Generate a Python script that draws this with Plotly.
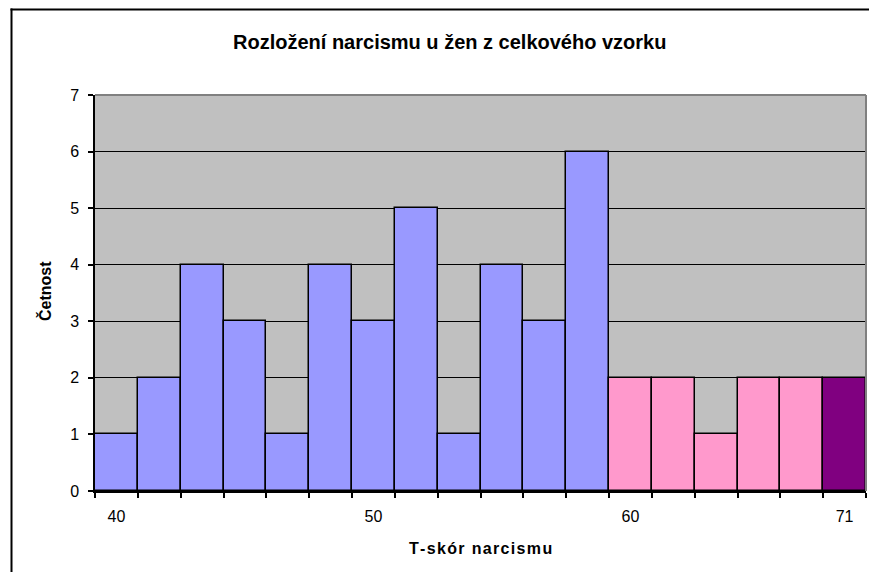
import plotly.graph_objects as go

# Data
bins = list(range(18))
counts = [1, 2, 4, 3, 1, 4, 3, 5, 1, 4, 3, 6, 2, 2, 1, 2, 2, 2]
groups = ["low"] * 12 + ["high"] * 5 + ["top"]
tick_positions = [0, 6, 12, 17]
tick_labels = ["40", "50", "60", "71"]
y_ticks = [0, 1, 2, 3, 4, 5, 6, 7]

group_colors = {"low": "#9999FF", "high": "#FF99CC", "top": "#800080"}
colors = [group_colors[g] for g in groups]

W, H = 870, 573
L, R, T, B = 95, 4, 95, 82
pw = W - L - R
ph = H - T - B

fig = go.Figure()
fig.add_trace(go.Bar(
    x=bins, y=counts, width=1,
    marker=dict(color=colors, line=dict(color="black", width=1.5)),
    hoverinfo="x+y",
))

font = "Arial, Liberation Sans, sans-serif"

fig.update_layout(
    width=W, height=H,
    margin=dict(l=L, r=R, t=T, b=B),
    paper_bgcolor="white",
    plot_bgcolor="#C0C0C0",
    showlegend=False,
    bargap=0,
    font=dict(family=font, size=16, color="black"),
    xaxis=dict(
        range=[-0.5, 17.5],
        tickmode="array", tickvals=tick_positions, ticktext=tick_labels,
        ticks="", showgrid=False, zeroline=False,
        showline=True, linecolor="black", linewidth=1.5,
        tickfont=dict(size=16, family=font),
        ticklabelstandoff=10,
        minor=dict(tickmode="array",
                   tickvals=[i - 0.5 for i in range(19)],
                   ticks="outside", ticklen=5, tickcolor="black", tickwidth=1.5,
                   showgrid=False),
        title=None,
    ),
    yaxis=dict(
        range=[0, 7],
        tickmode="array", tickvals=y_ticks,
        ticks="outside", ticklen=5, tickcolor="black", tickwidth=1.5,
        showgrid=True, gridcolor="black", gridwidth=1,
        zeroline=False,
        showline=True, linecolor="black", linewidth=1.5,
        tickfont=dict(size=16, family=font),
        ticklabelstandoff=6,
        title=None,
    ),
)

def px_x(p):
    return (p - L) / pw

def px_y(p):
    return (H - B - p) / ph

# plot-area gray top/right edges
fig.add_shape(type="line", xref="paper", yref="paper", x0=0, x1=1, y0=1, y1=1,
              line=dict(color="#808080", width=2))
fig.add_shape(type="line", xref="paper", yref="paper", x0=1, x1=1, y0=0, y1=1,
              line=dict(color="#808080", width=2))

# outer chart border: only top and left edges are visible in the frame
fig.add_shape(type="line", xref="paper", yref="paper",
              x0=px_x(10.5), x1=px_x(869), y0=px_y(9.5), y1=px_y(9.5),
              line=dict(color="black", width=2))
fig.add_shape(type="line", xref="paper", yref="paper",
              x0=px_x(11.5), x1=px_x(11.5), y0=px_y(8.5), y1=px_y(572),
              line=dict(color="black", width=2))

# Title and axis labels
fig.add_annotation(text="<b>Rozložení narcismu u žen z celkového vzorku</b>",
                   xref="paper", yref="paper", x=px_x(449), y=px_y(42),
                   xanchor="center", yanchor="middle",
                   showarrow=False, font=dict(size=20, family=font))
xlab = "\u200a".join("T-skór narcismu")
fig.add_annotation(text="<b>" + xlab + "</b>",
                   xref="paper", yref="paper", x=px_x(480), y=px_y(548),
                   xanchor="center", yanchor="middle",
                   showarrow=False, font=dict(size=16, family=font))
fig.add_annotation(text="<b>Četnost</b>", textangle=-90,
                   xref="paper", yref="paper", x=px_x(45), y=px_y(291),
                   xanchor="center", yanchor="middle",
                   showarrow=False, font=dict(size=16, family=font))

fig.write_html("out.html", config={"displayModeBar": False})

# remove default page margin so the figure sits at the window origin
with open("out.html", "r", encoding="utf-8") as f:
    html = f.read()
html = html.replace("<head>", "<head><style>html,body{margin:0;padding:0;overflow:hidden;}</style>", 1)
with open("out.html", "w", encoding="utf-8") as f:
    f.write(html)
